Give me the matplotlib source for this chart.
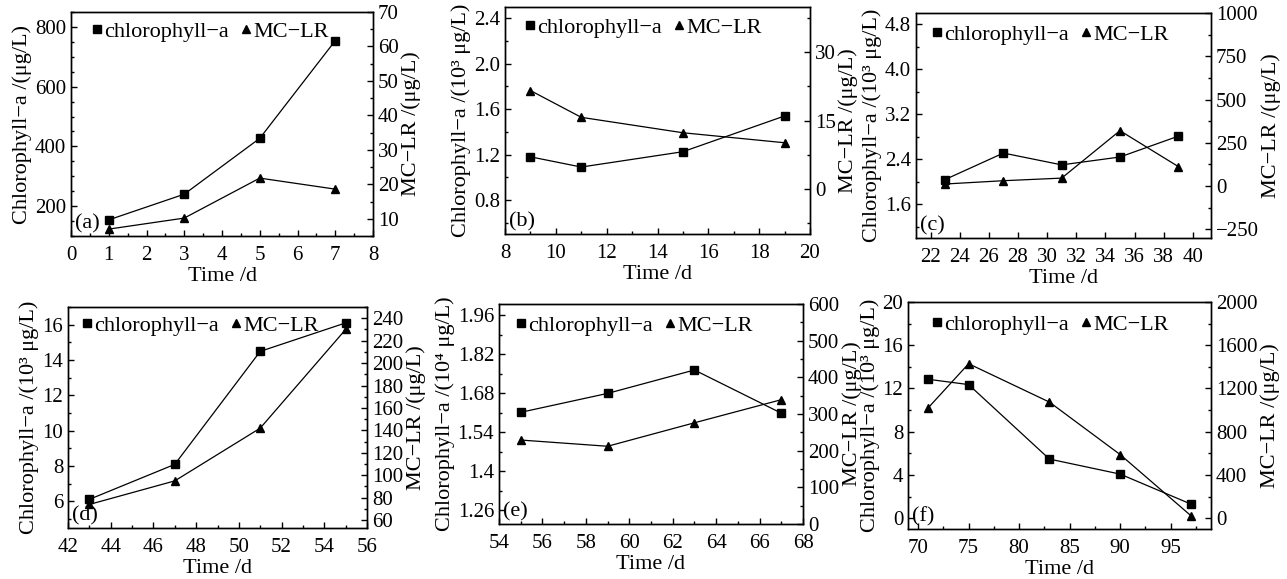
import numpy as np
import matplotlib
matplotlib.use("Agg")
import matplotlib.pyplot as plt
from matplotlib.ticker import MultipleLocator, FuncFormatter
from matplotlib.lines import Line2D

plt.rcParams['font.family'] = ['Liberation Serif', 'DejaVu Serif']
plt.rcParams['font.size'] = 15

# --- data ---
t_a = [1, 3, 5, 7]
chl_a = [154, 240, 427, 754]
mc_a = [7.0, 10.2, 21.8, 18.6]

t_b = [9, 11, 15, 19]
chl_b = [1.18, 1.09, 1.225, 1.54]
mc_b = [21.6, 15.7, 12.3, 10.1]

t_c = [23, 27, 31, 35, 39]
chl_c = [2.04, 2.51, 2.30, 2.44, 2.81]
mc_c = [12, 31, 46, 320, 113]

t_d = [43, 47, 51, 55]
chl_d = [6.12, 8.1, 14.49, 16.1]
mc_d = [74, 95, 142, 230]

t_e = [55, 59, 63, 67]
chl_e = [1.611, 1.679, 1.763, 1.608]
mc_e = [229, 212, 276, 339]

t_f = [71, 75, 83, 90, 97]
chl_f = [12.85, 12.36, 5.47, 4.08, 1.31]
mc_f = [1021, 1429, 1074, 589, 24]

tags = ['(a)', '(b)', '(c)', '(d)', '(e)', '(f)']
ylab_left = ['Chlorophyll−a /(μg/L)',
             'Chlorophyll−a /(10³ μg/L)',
             'Chlorophyll−a /(10³ μg/L)',
             'Chlorophyll−a /(10³ μg/L)',
             'Chlorophyll−a /(10⁴ μg/L)',
             'Chlorophyll−a /(10³ μg/L)']
ylab_right = 'MC−LR /(μg/L)'
xlab = 'Time /d'

panels = [
    dict(t=t_a, chl=chl_a, mc=mc_a, xlim=(0, 8), xmaj=1, xmin=0.5,
         ylim=(100, 850), ymaj=200, ymin=50, rlim=(5, 70), rmaj=10, rmin=5),
    dict(t=t_b, chl=chl_b, mc=mc_b, xlim=(8, 20), xmaj=2, xmin=1,
         ylim=(0.5, 2.5), ymaj=0.4, ymin=0.2, rlim=(-10, 40), rmaj=15, rmin=7.5),
    dict(t=t_c, chl=chl_c, mc=mc_c, xlim=(21, 41.25), xmaj=2, xmin=2,
         ylim=(1.0, 5.0), ymaj=0.8, ymin=0.4, rlim=(-300, 1000), rmaj=250, rmin=125),
    dict(t=t_d, chl=chl_d, mc=mc_d, xlim=(42, 56), xmaj=2, xmin=1,
         ylim=(4.5, 17), ymaj=2, ymin=1, rlim=(53, 250), rmaj=20, rmin=10),
    dict(t=t_e, chl=chl_e, mc=mc_e, xlim=(54, 68), xmaj=2, xmin=1,
         ylim=(1.21, 2.0), ymaj=0.14, ymin=0.07, rlim=(0, 600), rmaj=100, rmin=50),
    dict(t=t_f, chl=chl_f, mc=mc_f, xlim=(69, 99), xmaj=5, xmin=2.5,
         ylim=(-1, 20), ymaj=4, ymin=2, rlim=(-100, 2000), rmaj=400, rmin=200),
]

W, H = 1287, 579
# axes boxes in pixels: left, top, right, bottom
boxes = [(71, 12, 373, 236), (505, 7, 810, 234), (916, 13, 1211, 238),
         (68, 307, 367, 528), (499, 304, 803, 524), (908, 302, 1211, 529)]
leg_off = [(26, 17), (25, 18), (21, 19), (19, 16), (22, 19), (29, 20)]

fig = plt.figure(figsize=(W / 100, H / 100), dpi=100)


def style(ax, which):
    ax.tick_params(which='both', direction='in', labelsize=15, width=1.0)
    ax.tick_params(which='major', length=4.5)
    ax.tick_params(which='minor', length=2.5)
    if which == 'left':
        ax.tick_params(axis='y', right=False)
    ax.tick_params(axis='x', top=False, pad=7.5)
    for s in ax.spines.values():
        s.set_linewidth(1.0)


for i, p in enumerate(panels):
    l, t, r, b = boxes[i]
    ax = fig.add_axes([l / W, 1 - b / H, (r - l) / W, (b - t) / H])
    ax2 = ax.twinx()

    ax.plot(p['t'], p['chl'], '-s', color='black', lw=0.9, ms=5.5)
    ax2.plot(p['t'], p['mc'], '-^', color='black', lw=0.9, ms=6)

    ax.set_xlim(*p['xlim'])
    ax.set_ylim(*p['ylim'])
    ax2.set_ylim(*p['rlim'])
    ax.xaxis.set_major_locator(MultipleLocator(p['xmaj']))
    ax.xaxis.set_minor_locator(MultipleLocator(p['xmin']))
    ax.yaxis.set_major_locator(MultipleLocator(p['ymaj']))
    ax.yaxis.set_minor_locator(MultipleLocator(p['ymin']))
    ax2.yaxis.set_major_locator(MultipleLocator(p['rmaj']))
    ax2.yaxis.set_minor_locator(MultipleLocator(p['rmin']))
    if i == 4:
        ax.yaxis.set_major_formatter(FuncFormatter(lambda v, pos: f'{round(v, 2):g}'))

    style(ax, 'left')
    style(ax2, 'right')

    ax.set_xlabel(xlab, fontsize=16, labelpad=1)
    ax.set_ylabel(ylab_left[i], fontsize=16, labelpad=2)
    ax2.set_ylabel(ylab_right, fontsize=16, labelpad=2)

    ax.text(0.012, 0.012, tags[i], transform=ax.transAxes,
            ha='left', va='bottom', fontsize=16)

    handles = [Line2D([], [], ls='none', marker='s', color='black', ms=5.5),
               Line2D([], [], ls='none', marker='^', color='black', ms=6)]
    dx, dy = leg_off[i]
    fig.legend(handles, ['chlorophyll−a', 'MC−LR'], ncol=2, frameon=False,
               loc='upper left', fontsize=16,
               bbox_to_anchor=((l + dx - 6) / W, 1 - (t + dy - 8) / H),
               borderaxespad=0, borderpad=0, handlelength=0.5,
               handletextpad=0.1, columnspacing=0.5)

fig.savefig('out.png', dpi=100)
